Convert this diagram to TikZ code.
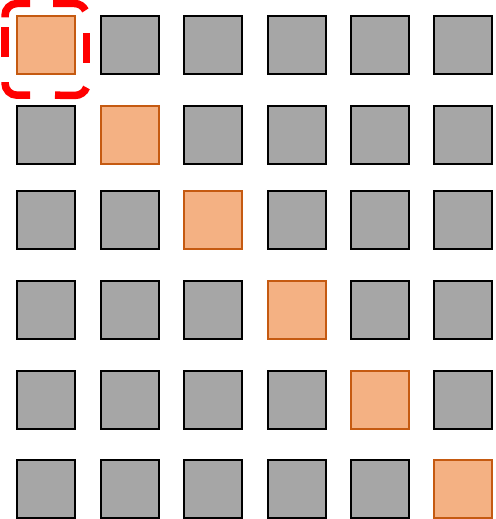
\documentclass[tikz,border=0pt]{standalone}
\definecolor{cellgray}{HTML}{A6A6A6}
\definecolor{hlfill}{HTML}{F4B183}
\definecolor{hldraw}{HTML}{C55A11}
\tikzset{
  cell/.style={draw=black, fill=cellgray, line width=2.4pt, minimum size=57.6pt, inner sep=0pt, outer sep=0pt},
  hlcell/.style={cell, draw=hldraw, fill=hlfill},
  focus/.style={draw=red, line width=7.5pt, line cap=butt}
}
\begin{document}
\begin{tikzpicture}[x=1pt,y=-1pt]
\useasboundingbox (0,0) rectangle (495,519);
\foreach \r/\y in {1/45,2/135,3/220,4/310,5/400,6/489}{
  \foreach \c/\x in {1/46,2/130,3/213,4/297,5/380,6/463}{
    \ifnum\r=\c
      \node[hlcell] (c\r\c) at (\x,\y) {};
    \else
      \node[cell] (c\r\c) at (\x,\y) {};
    \fi
  }
}
% dashed rounded focus frame around the first cell, drawn dash by dash
\begin{scope}[focus]
  \draw (5,17.5) -- (5,15.5) arc[start angle=180, end angle=270, radius=12] -- (30,3.5);
  \draw (53,3.5) -- (74.5,3.5) arc[start angle=270, end angle=335, radius=12];
  \draw (86.5,33) -- (86.5,63.5);
  \draw (86.5,87.5) arc[start angle=20, end angle=90, radius=12] -- (55,95.2);
  \draw (30,95.2) -- (17,95.2) arc[start angle=90, end angle=180, radius=12] -- (5,82);
  \draw (5,57) -- (5,27);
\end{scope}
\end{tikzpicture}
\end{document}
